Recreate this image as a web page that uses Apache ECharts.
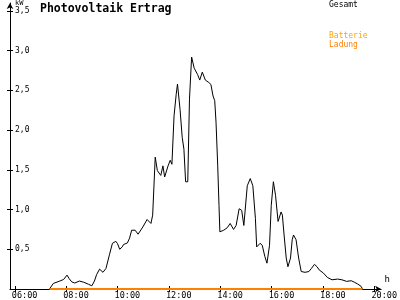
<!DOCTYPE html>
<html>
<head>
<meta charset="utf-8">
<script src="https://cdn.jsdelivr.net/npm/echarts@6/dist/echarts.min.js"></script>
<style>html,body{margin:0;padding:0;background:#fff}#c{width:400px;height:300px}</style>
</head>
<body>
<div id="c"></div>
<script>
// ---- data ----
var gesamtTimes = ["07:21","07:30","07:45","07:54","08:02","08:07","08:13","08:20","08:31","08:41","08:52","09:00","09:06","09:11","09:18","09:26","09:33","09:41","09:48","09:56","10:00","10:05","10:11","10:14","10:18","10:23","10:28","10:33","10:41","10:48","10:59","11:09","11:18","11:22","11:28","11:33","11:41","11:46","11:50","11:58","12:03","12:07","12:12","12:17","12:20","12:26","12:31","12:35","12:39","12:44","12:48","12:53","12:59","13:07","13:12","13:18","13:25","13:33","13:38","13:43","13:47","13:50","13:54","13:57","13:59","14:08","14:16","14:23","14:31","14:37","14:44","14:50","14:55","15:03","15:10","15:16","15:22","15:25","15:33","15:38","15:44","15:49","15:55","15:59","16:04","16:09","16:15","16:22","16:25","16:29","16:34","16:38","16:44","16:48","16:51","16:57","17:03","17:09","17:18","17:27","17:33","17:40","17:46","17:51","18:01","18:10","18:21","18:34","18:44","18:55","19:06","19:14","19:21","19:29","19:32"];
var gesamtKW = [0,0.07,0.10,0.12,0.175,0.13,0.09,0.075,0.10,0.085,0.06,0.04,0.10,0.18,0.25,0.21,0.26,0.43,0.575,0.60,0.57,0.50,0.53,0.56,0.55,0.58,0.64,0.74,0.74,0.69,0.78,0.875,0.825,0.93,1.66,1.49,1.43,1.55,1.41,1.55,1.62,1.57,2.18,2.45,2.58,2.26,1.91,1.76,1.35,1.35,2.39,2.92,2.78,2.70,2.63,2.73,2.63,2.60,2.575,2.43,2.37,2.10,1.55,1.05,0.72,0.74,0.77,0.825,0.75,0.80,1.01,0.99,0.80,1.30,1.39,1.30,0.89,0.53,0.575,0.55,0.41,0.325,0.55,1.05,1.35,1.18,0.85,0.97,0.93,0.68,0.39,0.28,0.39,0.62,0.68,0.62,0.39,0.22,0.21,0.22,0.26,0.31,0.28,0.24,0.20,0.146,0.116,0.125,0.116,0.096,0.104,0.083,0.0625,0.033,0];
var ladungTimes = ["07:21","19:32"];
var ladungKW = [0,0];
var batterieTimes = [];
var batterieKW = [];
var xTickHours = [6,8,10,12,14,16,18,20];
var yTickValues = [0.5,1.0,1.5,2.0,2.5,3.0,3.5];
var titleText = "Photovoltaik Ertrag";
var seriesNames = ["Gesamt","Batterie","Ladung"];

function toHours(s){var p=s.split(":");return +p[0]+(+p[1])/60;}
function pairs(t,v){return t.map(function(s,i){return [toHours(s),v[i]];});}
function pad(n){return (n<10?"0":"")+n;}

var FONT = "DejaVu Sans Mono";
var X_MIN = 5.8128, X_MAX = 20.262, Y_MAX = 3.6;
var cBatt = "#ffa500", cLad = "#ff7f00";

var chart = echarts.init(document.getElementById("c"), null, {renderer:"canvas"});
var xBase = {type:"value", min:X_MIN, max:X_MAX, position:"bottom", splitLine:{show:false}};
var yBase = {type:"value", min:0, max:Y_MAX, position:"left", splitLine:{show:false}};
chart.setOption({
  animation:false,
  backgroundColor:"#fff",
  title:{text:titleText, left:40, top:3, padding:0, textStyle:{fontFamily:FONT, fontWeight:"bold", fontSize:11.5, color:"#000"}},
  legend:[
    {data:[{name:seriesNames[0], textStyle:{color:"#000"}}], left:324, top:0, padding:0, itemWidth:0, itemHeight:0, icon:"rect", selectedMode:false,
     textStyle:{fontFamily:FONT, fontSize:8, lineHeight:9}},
    {data:[{name:seriesNames[1], textStyle:{color:cBatt}},{name:seriesNames[2], textStyle:{color:cLad}}], orient:"vertical", left:324, top:31, padding:0, itemGap:0, itemWidth:0, itemHeight:0, icon:"rect", selectedMode:false,
     textStyle:{fontFamily:FONT, fontSize:8, lineHeight:9}}
  ],
  grid:{left:10, right:4, top:3, bottom:9, containLabel:false},
  xAxis:[
    Object.assign({}, xBase, {
      name:"h", nameLocation:"end", nameGap:6,
      nameTextStyle:{fontFamily:FONT, fontSize:9, color:"#000", align:"center", verticalAlign:"bottom", padding:[0,0,5,0]},
      axisLine:{show:true, lineStyle:{color:"#000", width:1}, symbol:["none","arrow"], symbolSize:[5,6]},
      axisTick:{show:true, inside:false, length:3, lineStyle:{color:"#000"}, customValues:xTickHours},
      axisLabel:{show:true, margin:2, align:"left", padding:[0,0,0,-3], fontFamily:FONT, fontSize:8.5, color:"#000",
        customValues:xTickHours, formatter:function(v){return pad(Math.round(v))+":00";}}
    }),
    Object.assign({}, xBase, {
      axisLine:{show:false},
      axisTick:{show:true, inside:true, length:3, lineStyle:{color:"#000"}, customValues:xTickHours},
      axisLabel:{show:false}
    })
  ],
  yAxis:[
    Object.assign({}, yBase, {
      name:"kW", nameLocation:"end", nameGap:2,
      nameTextStyle:{fontFamily:FONT, fontSize:7, color:"#000", align:"left", verticalAlign:"top", padding:[0,0,0,5]},
      axisLine:{show:true, lineStyle:{color:"#000", width:1}, symbol:["none","arrow"], symbolSize:[5,6]},
      axisTick:{show:true, inside:false, length:3, lineStyle:{color:"#000"}, customValues:yTickValues},
      axisLabel:{show:true, inside:true, margin:5, fontFamily:FONT, fontSize:8, color:"#000",
        customValues:yTickValues, formatter:function(v){return v.toFixed(1).replace(".",",");}}
    }),
    Object.assign({}, yBase, {
      axisLine:{show:false},
      axisTick:{show:true, inside:true, length:3, lineStyle:{color:"#000"}, customValues:yTickValues},
      axisLabel:{show:false}
    })
  ],
  series:[
    {name:seriesNames[0], type:"line", xAxisIndex:0, yAxisIndex:0, data:pairs(gesamtTimes,gesamtKW), showSymbol:false, symbol:"none",
     lineStyle:{color:"#000", width:1}, itemStyle:{color:"#000"}, z:3},
    {name:seriesNames[1], type:"line", xAxisIndex:0, yAxisIndex:0, data:pairs(batterieTimes,batterieKW), showSymbol:false, symbol:"none",
     lineStyle:{color:cBatt, width:1}, itemStyle:{color:cBatt}},
    {name:seriesNames[2], type:"line", xAxisIndex:0, yAxisIndex:0, data:pairs(ladungTimes,ladungKW), showSymbol:false, symbol:"none",
     lineStyle:{color:cLad, width:2}, itemStyle:{color:cLad}, z:4}
  ]
});
</script>
</body>
</html>
